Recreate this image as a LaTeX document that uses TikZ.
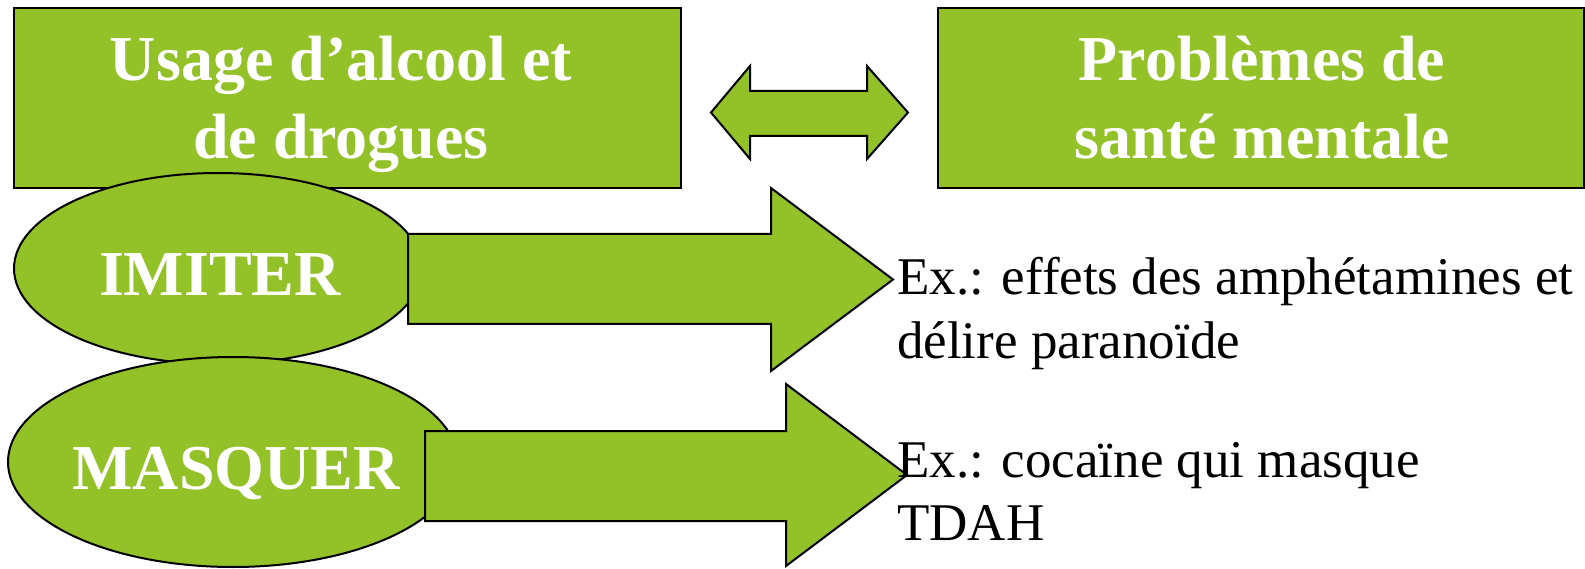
\documentclass[tikz,border=0pt]{standalone}
\usepackage{fontspec}
\setmainfont{Liberation Serif}
\usetikzlibrary{shapes.geometric}
\definecolor{lime}{RGB}{146,193,40}
\begin{document}
\begin{tikzpicture}[x=1pt,y=-1pt,
  greenshape/.style={fill=lime,draw=black,line width=2pt,line join=miter},
  boxnode/.style={greenshape,rectangle,anchor=north west,inner sep=0,outer sep=0},
  headtext/.style={font=\bfseries\fontsize{64}{78}\selectfont,text=white,align=center,inner sep=0,anchor=base},
  ovaltext/.style={font=\bfseries\fontsize{64}{78}\selectfont,text=white,inner sep=0,anchor=base},
  bodytext/.style={font=\fontsize{53}{63}\selectfont,align=left,inner sep=0,anchor=base west}]
\useasboundingbox (0,0) rectangle (1585,569);
% top boxes
\node[boxnode,minimum width=667pt,minimum height=180pt] (usage) at (14,8) {};
\node[boxnode,minimum width=646pt,minimum height=180pt] (sante) at (938,8) {};
% multi-line nodes: base anchor is the baseline of the last line
\node[headtext] (usagetxt) at (341,159) {Usage d’alcool et\\de drogues};
\node[headtext] (santetxt) at (1262,159) {Problèmes de\\santé mentale};
% double arrow
\draw[greenshape] (711,112.5) -- (750,66) -- (750,91) -- (867,91) -- (867,66) -- (908,112.5)
  -- (867,159) -- (867,136) -- (750,136) -- (750,159) -- cycle;
% IMITER
\node[greenshape,ellipse,minimum width=408pt,minimum height=191pt,inner sep=0] (imiter) at (218,268.5) {};
\node[ovaltext] (imitertxt) at (220,296) {IMITER};
\draw[greenshape] (408,234) -- (771,234) -- (771,188) -- (893,279.5) -- (771,371) -- (771,324) -- (408,324) -- cycle;
% MASQUER
\node[greenshape,ellipse,minimum width=450pt,minimum height=210pt,inner sep=0] (masquer) at (233,462) {};
\node[ovaltext] (masquertxt) at (236,489) {MASQUER};
\draw[greenshape] (425,431) -- (786,431) -- (786,384) -- (907,475) -- (786,566) -- (786,521) -- (425,521) -- cycle;
% texts
\node[bodytext] (ex1) at (897,358) {Ex.: effets des amphétamines et\\délire paranoïde};
\node[bodytext] (ex2) at (897,540) {Ex.: cocaïne qui masque\\TDAH};
\end{tikzpicture}
\end{document}
